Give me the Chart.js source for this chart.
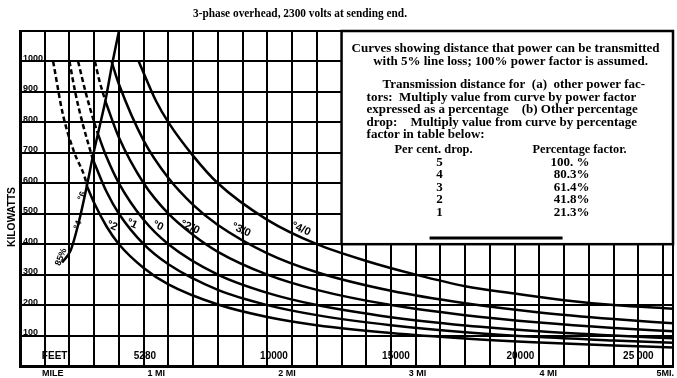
<!DOCTYPE html>
<html>
<head>
<meta charset="utf-8">
<script src="https://cdn.jsdelivr.net/npm/chart.js@4.4.0/dist/chart.umd.min.js"></script>
<style>
  html, body { margin: 0; padding: 0; background: #fff; }
  #wrap { width: 677px; height: 378px; }
</style>
</head>
<body>
<div id="wrap"><canvas id="chart"></canvas></div>
<script>
// distance in feet, load in kilowatts
var ft_4_0 = [4800, 5500, 6000, 7000, 8000, 10000, 12000, 14000, 16000, 18000, 20000, 22000, 24000, 26400];
var kw_4_0 = [1000, 870, 800, 690, 600, 480, 400, 345, 300, 262, 238, 216, 200, 188];

var ft_3_0 = [3700, 4000, 5000, 6000, 7000, 8000, 10000, 12000, 15000, 18000, 21000, 24000, 26400];
var kw_3_0 = [1000, 925, 740, 617, 529, 463, 370, 308, 247, 206, 176, 154, 140];

var ft_2_0 = [3450, 4000, 5000, 6000, 7000, 8000, 10000, 12000, 15000, 18000, 21000, 24000, 26400];
var kw_2_0 = [870, 750, 600, 500, 430, 375, 300, 250, 200, 167, 143, 125, 114];
var ft_2_0_dash = [3030, 3200, 3450];
var kw_2_0_dash = [1000, 940, 870];

var ft_0 = [3150, 3500, 4000, 5000, 6000, 8000, 10000, 12000, 15000, 18000, 21000, 24000, 26400];
var kw_0 = [762, 686, 600, 480, 400, 300, 240, 200, 160, 133, 114, 100, 91];
var ft_0_dash = [2350, 2650, 3000, 3150];
var kw_0_dash = [1000, 900, 800, 762];

var ft_1 = [2940, 3500, 4000, 5000, 6000, 8000, 10000, 12000, 15000, 18000, 21000, 24000, 26400];
var kw_1 = [680, 572, 500, 400, 334, 250, 200, 167, 134, 111, 95, 84, 76];
var ft_1_dash = [2000, 2230, 2520, 2940];
var kw_1_dash = [1000, 900, 800, 680];

var ft_2 = [2710, 3000, 3500, 4000, 5000, 6000, 8000, 10000, 12000, 15000, 18000, 21000, 24000, 26400];
var kw_2 = [590, 535, 458, 400, 322, 268, 202, 161, 134, 108, 90, 77, 67, 61];
var ft_2_dash = [1340, 1740, 2200, 2630, 2710];
var kw_2_dash = [1000, 824, 700, 617, 590];

// line where the curves go from solid to dashed
var ft_limit = [1700, 2050, 2400, 2700, 2950, 3200, 3450, 3700, 4000];
var kw_limit = [340, 380, 480, 590, 690, 780, 870, 980, 1100];

var wireLabels = ['\u00b02', '\u00b01', '\u00b00', '\u00b02/0', '\u00b03/0', '\u00b04/0'];
var wireLabelFt = [3720, 4530, 5580, 6875, 8940, 11360];
var wireLabelKw = [460, 467, 460, 456, 447, 450];

var limitLabels = ['\u00b06', '\u00b04', '85%'];
var limitLabelFt = [2510, 2345, 1660];
var limitLabelKw = [558, 463, 358];

var kwTickLabels = [100, 200, 300, 400, 500, 600, 700, 800, 900, 1000];
var feetLabels = ['FEET', '5280', '10000', '15000', '20000', '25 000'];
var feetLabelPos = [1400, 5050, 10270, 15200, 20230, 25000];
var mileLabels = ['MILE', '1 MI', '2 MI', '3 MI', '4 MI', '5MI.'];
var mileValues = [0, 1, 2, 3, 4, 5];

var factorDrop = ['5', '4', '3', '2', '1'];
var factorPct = ['100. %', '80.3%', '61.4%', '41.8%', '21.3%'];

function pts(ft, kw) {
    return ft.map(function (v, i) { return { x: v, y: kw[i] }; });
}
function curve(ft, kw, dashed) {
    return {
        data: pts(ft, kw),
        borderColor: '#000',
        borderWidth: 2.5,
        borderDash: dashed ? [5, 3] : [],
        pointRadius: 0,
        cubicInterpolationMode: 'monotone',
        fill: false
    };
}

var SERIF = '"Liberation Serif", "DejaVu Serif", serif';
var SANS = '"Liberation Sans", "DejaVu Sans", sans-serif';

function txt(ctx, s, x, y, font, align, maxW) {
    ctx.font = font;
    ctx.textAlign = align || 'center';
    ctx.textBaseline = 'middle';
    if (maxW) ctx.fillText(s, x, y, maxW); else ctx.fillText(s, x, y);
}

var sheetText = {
    id: 'sheetText',
    beforeDatasetsDraw: function (chart) {
        // note box sits over the grid, top right
        var sx = chart.scales.x, sy = chart.scales.y, ctx = chart.ctx;
        var l = sx.getPixelForValue(13000), r = sx.getPixelForValue(26400);
        var t = sy.getPixelForValue(1100), b = sy.getPixelForValue(400);
        ctx.save();
        ctx.fillStyle = '#fff';
        ctx.fillRect(l, t, r - l, b - t);
        ctx.strokeStyle = '#000';
        ctx.lineWidth = 2.5;
        ctx.strokeRect(l, t, r - l, b - t);
        ctx.restore();
    },
    afterDraw: function (chart) {
        var sx = chart.scales.x, sy = chart.scales.y, ctx = chart.ctx;
        var area = chart.chartArea;
        ctx.save();
        ctx.fillStyle = '#000';

        txt(ctx, '3-phase overhead, 2300 volts at sending end.', 300, 14, 'bold 13px ' + SERIF, 'center', 214);

        ctx.save();
        ctx.translate(12, 217);
        ctx.rotate(-Math.PI / 2);
        txt(ctx, 'KILOWATTS', 0, 0, 'bold 11px ' + SANS, 'center', 60);
        ctx.restore();

        // note text
        var bl = sx.getPixelForValue(13000), bt = sy.getPixelForValue(1100);
        var f = 'bold 13px ' + SERIF;
        txt(ctx, 'Curves showing distance that power can be transmitted', bl + 164, bt + 18, f, 'center', 318);
        txt(ctx, 'with 5% line loss; 100% power factor is assumed.', bl + 169, bt + 31, f, 'center', 287);
        txt(ctx, 'Transmission distance for  (a)  other power fac-', bl + 41, bt + 54, f, 'left', 274);
        txt(ctx, 'tors:  Multiply value from curve by power factor', bl + 25, bt + 66.5, f, 'left', 288);
        txt(ctx, 'expressed as a percentage    (b) Other percentage', bl + 25, bt + 79, f, 'left', 288);
        txt(ctx, 'drop:    Multiply value from curve by percentage', bl + 25, bt + 91.5, f, 'left', 286);
        txt(ctx, 'factor in table below:', bl + 25, bt + 104, f, 'left', 126);
        txt(ctx, 'Per cent. drop.', bl + 92, bt + 119, f, 'center', 78);
        txt(ctx, 'Percentage factor.', bl + 238, bt + 119, f, 'center', 94);
        for (var i = 0; i < factorDrop.length; i++) {
            txt(ctx, factorDrop[i], bl + 98, bt + 131.5 + i * 12.5, f, 'center');
            txt(ctx, factorPct[i], bl + 248, bt + 131.5 + i * 12.5, f, 'right', 46);
        }
        ctx.fillRect(bl + 88, bt + 205.5, 133, 3);

        // wire size marks on the curves
        for (i = 0; i < wireLabels.length; i++) {
            ctx.save();
            ctx.translate(sx.getPixelForValue(wireLabelFt[i]), sy.getPixelForValue(wireLabelKw[i]));
            ctx.rotate(0.42);
            txt(ctx, wireLabels[i], 0, 0, 'bold 11px ' + SANS, 'center');
            ctx.restore();
        }
        for (i = 0; i < limitLabels.length; i++) {
            ctx.save();
            ctx.translate(sx.getPixelForValue(limitLabelFt[i]), sy.getPixelForValue(limitLabelKw[i]));
            ctx.rotate(-1.2);
            txt(ctx, limitLabels[i], 0, 0, 'bold 9px ' + SANS, 'center');
            ctx.restore();
        }

        // feet along the bottom row, miles under the axis
        var ly = area.bottom - 10;
        for (i = 0; i < feetLabels.length; i++) {
            txt(ctx, feetLabels[i], sx.getPixelForValue(feetLabelPos[i]), ly, 'bold 10px ' + SANS, 'center', 36);
        }
        for (i = 0; i < mileLabels.length; i++) {
            var mx = sx.getPixelForValue(mileValues[i] * 5280);
            if (i === 0) txt(ctx, mileLabels[i], mx + 22, area.bottom + 8, 'bold 9px ' + SANS, 'left', 26);
            else if (i === mileLabels.length - 1) txt(ctx, mileLabels[i], mx + 1, area.bottom + 8, 'bold 9px ' + SANS, 'right', 24);
            else txt(ctx, mileLabels[i], mx - 3, area.bottom + 8, 'bold 9px ' + SANS, 'left', 24);
        }
        ctx.restore();
    }
};

var gridFt = [];
for (var g = 0; g <= 26000; g += 1000) gridFt.push(g);
gridFt.push(26400);

var config = {
    type: 'line',
    data: {
        datasets: [
            curve(ft_4_0, kw_4_0, false),
            curve(ft_3_0, kw_3_0, false),
            curve(ft_2_0, kw_2_0, false),
            curve(ft_2_0_dash, kw_2_0_dash, true),
            curve(ft_0, kw_0, false),
            curve(ft_0_dash, kw_0_dash, true),
            curve(ft_1, kw_1, false),
            curve(ft_1_dash, kw_1_dash, true),
            curve(ft_2, kw_2, false),
            curve(ft_2_dash, kw_2_dash, true),
            curve(ft_limit, kw_limit, false)
        ]
    },
    options: {
        responsive: true,
        maintainAspectRatio: false,
        animation: false,
        layout: { padding: { left: 14, top: 31, right: 4, bottom: 12 } },
        plugins: {
            legend: { display: false },
            tooltip: { enabled: false },
            title: { display: false }
        },
        scales: {
            x: {
                type: 'linear',
                min: 0,
                max: 26400,
                afterBuildTicks: function (scale) {
                    scale.ticks = gridFt.map(function (v) { return { value: v }; });
                },
                ticks: { display: false },
                grid: { color: '#000', lineWidth: 2, drawTicks: false },
                border: { display: true, color: '#000', width: 3 }
            },
            y: {
                type: 'linear',
                min: 0,
                max: 1100,
                ticks: {
                    stepSize: 100,
                    mirror: true,
                    padding: 3,
                    labelOffset: -3,
                    color: '#000',
                    font: { family: SANS, size: 9, weight: 'bold' },
                    callback: function (v) { return kwTickLabels.indexOf(v) >= 0 ? String(v) : ''; }
                },
                grid: { color: '#000', lineWidth: 2, drawTicks: false },
                border: { display: true, color: '#000', width: 3 }
            }
        }
    },
    plugins: [sheetText]
};

var ctx = document.getElementById('chart').getContext('2d');
window.myChart = new Chart(ctx, config);
</script>
</body>
</html>
